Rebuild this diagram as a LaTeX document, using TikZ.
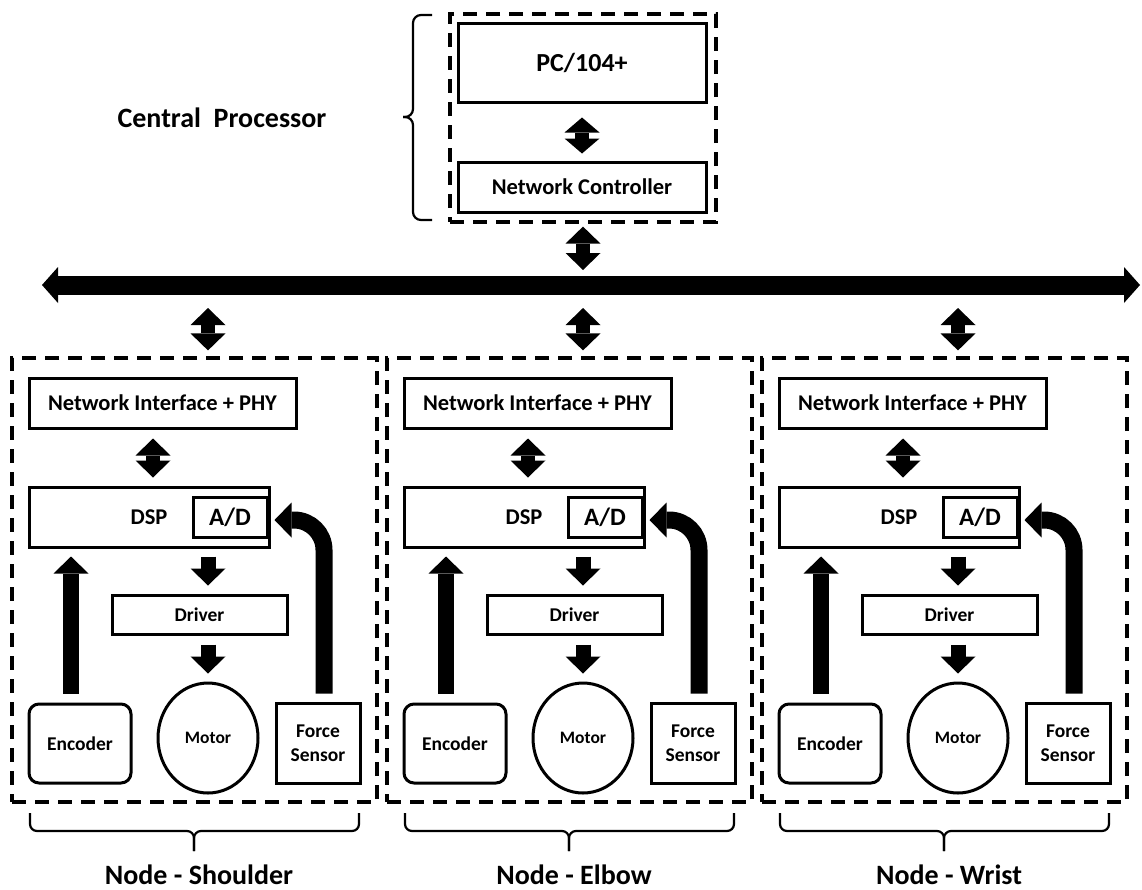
\documentclass[tikz,border=0pt]{standalone}
\usepackage{fontspec}
\setmainfont{Carlito}
\usetikzlibrary{arrows.meta,calc,shapes.geometric}
\newcommand\fsz[1]{\bfseries\fontsize{#1}{#1}\selectfont}
\tikzset{
  box/.style={draw, line width=3pt, inner sep=0pt, font=\fsz{22.5}},
  dashbox/.style={draw, line width=3.2pt, dash pattern=on 14pt off 9pt, inner sep=0pt},
  tipT/.tip={Triangle[length=17pt,width=35pt,line width=0pt]},
  tipS/.tip={Triangle[length=15pt,width=35pt,line width=0pt]},
  dbl/.style={line width=14pt, tipT-tipT},
  dblshort/.style={line width=14pt, tipS-tipS},
  onearrow/.style={line width=15pt, -tipT},
  busarrow/.style={line width=19pt, {Triangle[length=16pt,width=36pt,line width=0pt]}-{Triangle[length=16pt,width=36pt,line width=0pt]}},
  bracel/.style={line width=2.2pt, rounded corners=7pt},
  lbl/.style={font=\fsz{28}, inner sep=0pt}
}
\newcommand\blk[3]{%
\begin{scope}[xshift=#1pt]
\node[dashbox, minimum width=365pt, minimum height=444pt] (#2box) at (194.5,580) {};
\node[box, minimum width=267pt, minimum height=50pt] (#2ni) at (162.5,403) {Network Interface + PHY};
\node[box, minimum width=240pt, minimum height=60pt] (#2dsp) at (149,517) {DSP};
\node[box, minimum width=74pt, minimum height=40pt, font=\fsz{25}] (#2ad) at (230,517) {A/D};
\node[box, minimum width=175pt, minimum height=39pt, font=\fsz{19.5}] (#2drv) at (199.5,614.5) {Driver};
\node[box, ellipse, minimum width=100pt, minimum height=110pt, font=\fsz{17.5}] (#2mot) at (208,738) {Motor};
\node[box, rounded corners=10pt, minimum width=102pt, minimum height=79pt, font=\fsz{19.5}] (#2enc) at (80,743.5) {Encoder};
\node[box, minimum width=84pt, minimum height=80pt, align=center, font=\bfseries\fontsize{19.5}{24}\selectfont] (#2fs) at (318,743) {Force\\Sensor};
\draw[dbl, shorten <=23pt, shorten >=6pt] (#2mot |- busL) -- (#2mot |- #2box.north);
\draw[dbl, shorten <=9pt, shorten >=8pt] ([xshift=-9.5pt]#2ni.south) -- ([xshift=4pt]#2dsp.north);
\draw[onearrow, shorten <=8pt, shorten >=8pt] (#2mot |- #2dsp.south) -- (#2mot |- #2drv.north);
\draw[onearrow, shorten <=9pt, shorten >=8pt] (#2mot |- #2drv.south) -- (#2mot.north);
\draw[onearrow, line width=16pt, shorten <=9pt, shorten >=8pt] ([xshift=-9pt]#2enc.north) -- ([xshift=-9pt]#2enc.north |- #2dsp.south);
\draw[onearrow, line width=17pt, rounded corners=30pt, shorten <=8pt] ([xshift=6pt]#2fs.north) |- ([xshift=6pt,yshift=-3pt]#2ad.east);
\draw[bracel] (30,813) -- (30,831) -- (194,831) -- (194,851);
\draw[bracel] (359,813) -- (359,831) -- (194,831) -- (194,851);
\node[lbl, anchor=base] (#2lbl) at (199,884) {#3};
\end{scope}}
\begin{document}
\begin{tikzpicture}[x=1pt,y=-1pt]
\fill[white] (0,0) rectangle (1142,889);
\useasboundingbox (0,0) rectangle (1142,889);
% central processor
\node[dashbox, minimum width=266pt, minimum height=208pt] (cp) at (583,118) {};
\node[box, minimum width=248pt, minimum height=79pt, font=\fsz{26}] (pc) at (582,62.5) {PC/104+};
\node[box, minimum width=248pt, minimum height=50pt] (nc) at (582,187) {Network Controller};
\draw[dblshort, shorten <=14pt, shorten >=7pt] (pc.south) -- (nc.north);
\draw[bracel, rounded corners=8pt] (432,15) -- (413,15) -- (413,117) -- (403,117);
\draw[bracel, rounded corners=8pt] (432,220) -- (413,220) -- (413,117) -- (403,117);
\node[lbl] (cplbl) at (222,118) {Central\ \ Processor};
% bus
\coordinate (busL) at (42,285);
\coordinate (busR) at (1140,285);
\draw[busarrow] (busL) -- (busR);
\draw[dbl, shorten <=3pt, shorten >=15pt] (cp.south) -- (cp.south |- busL);
% nodes
\blk{0}{s}{Node - Shoulder}
\blk{375}{e}{Node - Elbow}
\blk{750}{w}{Node - Wrist}
\end{tikzpicture}
\end{document}
